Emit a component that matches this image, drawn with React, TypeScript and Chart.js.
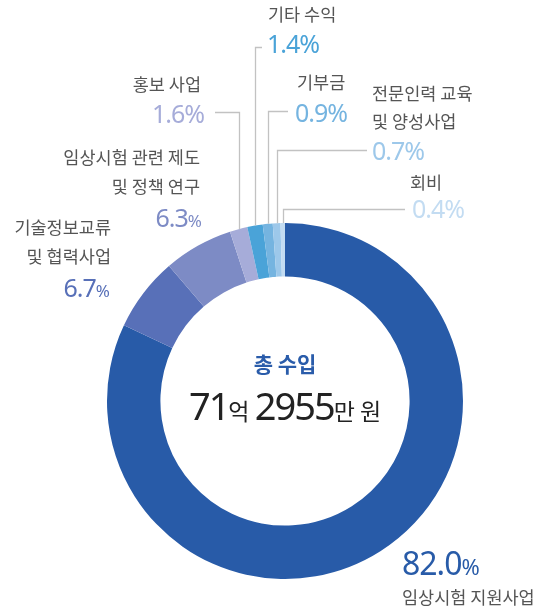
import React, { useEffect, useRef } from "react";
import { Chart, registerables } from "chart.js";

Chart.register(...registerables);

// ---- data ----
const categories = [
  "임상시험 지원사업",
  "기술정보교류 및 협력사업",
  "임상시험 관련 제도 및 정책 연구",
  "홍보 사업",
  "기타 수익",
  "기부금",
  "전문인력 교육 및 양성사업",
  "회비",
];
const shares = [82.0, 6.7, 6.3, 1.6, 1.4, 0.9, 0.7, 0.4];
const labelLines = [
  ["임상시험 지원사업"],
  ["기술정보교류", "및 협력사업"],
  ["임상시험 관련 제도", "및 정책 연구"],
  ["홍보 사업"],
  ["기타 수익"],
  ["기부금"],
  ["전문인력 교육", "및 양성사업"],
  ["회비"],
];
const centerTitle = "총 수입";
const totalParts = [
  { t: "71", big: true },
  { t: "억 ", big: false },
  { t: "2955", big: true },
  { t: "만 원", big: false },
];

// ---- styles / layout ----
const colors = [
  "#285ba8",
  "#5870b8",
  "#7d8bc5",
  "#a6acd9",
  "#4aa3d8",
  "#75b4e0",
  "#9dc8ea",
  "#c3dcf2",
];
type LabelLayout = {
  align: CanvasTextAlign;
  x: number;
  lineYs: number[];
  pctX: number;
  pctY: number;
  pctSize: number;
  smallPct: boolean;
  leader?: { y: number; x: number };
};
const layouts: LabelLayout[] = [
  { align: "left", x: 402, lineYs: [604], pctX: 402, pctY: 575, pctSize: 32, smallPct: true },
  { align: "right", x: 111, lineYs: [234, 263], pctX: 109, pctY: 297, pctSize: 25, smallPct: true },
  { align: "right", x: 200, lineYs: [164, 193], pctX: 201, pctY: 227, pctSize: 25, smallPct: true },
  { align: "right", x: 201, lineYs: [91], pctX: 204, pctY: 123, pctSize: 25, smallPct: false, leader: { y: 112, x: 215 } },
  { align: "left", x: 268, lineYs: [21], pctX: 267, pctY: 53, pctSize: 25, smallPct: false, leader: { y: 47, x: 262 } },
  { align: "left", x: 297, lineYs: [89], pctX: 295, pctY: 122, pctSize: 25, smallPct: false, leader: { y: 111, x: 288 } },
  { align: "left", x: 372, lineYs: [100, 128], pctX: 372, pctY: 160, pctSize: 25, smallPct: false, leader: { y: 150, x: 367 } },
  { align: "left", x: 410, lineYs: [189], pctX: 412, pctY: 218, pctSize: 25, smallPct: false, leader: { y: 209, x: 405 } },
];

const KR = '"Noto Sans CJK KR", "Noto Sans", sans-serif';
const NUM = '"Noto Sans", "Noto Sans CJK KR", sans-serif';

const labelPlugin = {
  id: "labels",
  afterDraw(chart: any) {
    const ctx = chart.ctx as CanvasRenderingContext2D;
    const meta = chart.getDatasetMeta(0);
    ctx.save();
    layouts.forEach((lay, i) => {
      const arc = meta.data[i];
      const p = arc.getProps(["x", "y", "startAngle", "endAngle", "outerRadius"], true);
      // leader line
      if (lay.leader) {
        const mid = (p.startAngle + p.endAngle) / 2;
        const vx = Math.round(p.x + Math.cos(mid) * p.outerRadius) + 0.5;
        const vy = p.y + Math.sin(mid) * p.outerRadius;
        ctx.strokeStyle = "#c2c2c2";
        ctx.lineWidth = 1.3;
        ctx.beginPath();
        ctx.moveTo(lay.leader.x, lay.leader.y + 0.5);
        ctx.lineTo(vx, lay.leader.y + 0.5);
        ctx.lineTo(vx, vy);
        ctx.stroke();
      }
      // category text
      ctx.fillStyle = "#555555";
      ctx.font = `400 17.5px ${KR}`;
      ctx.textAlign = lay.align;
      ctx.textBaseline = "alphabetic";
      labelLines[i].forEach((ln, j) => ctx.fillText(ln, lay.x, lay.lineYs[j]));
      // percentage
      const num = shares[i].toFixed(1);
      ctx.fillStyle = colors[i];
      const bigFont = `400 ${lay.pctSize}px ${NUM}`;
      const pctFont = lay.smallPct
        ? `400 ${Math.round(lay.pctSize * 0.68)}px ${NUM}`
        : bigFont;
      ctx.font = bigFont;
      ctx.letterSpacing = "-1px";
      const wNum = ctx.measureText(num).width;
      ctx.font = pctFont;
      const wPct = ctx.measureText("%").width;
      let start = lay.pctX;
      if (lay.align === "right") start = lay.pctX - wNum - wPct;
      ctx.textAlign = "left";
      ctx.font = bigFont;
      ctx.fillText(num, start, lay.pctY);
      ctx.font = pctFont;
      ctx.fillText("%", start + wNum, lay.pctY);
      ctx.letterSpacing = "0px";
    });

    // center text
    const cx = meta.data[0].x;
    ctx.textAlign = "center";
    ctx.fillStyle = "#2a5caa";
    ctx.font = `700 21px ${KR}`;
    ctx.fillText(centerTitle, cx, 372);

    const bigF = `400 38px ${NUM}`;
    const smallF = `400 23px ${KR}`;
    ctx.textAlign = "left";
    let total = 0;
    const widths = totalParts.map((pt) => {
      ctx.font = pt.big ? bigF : smallF;
      ctx.letterSpacing = pt.big ? "-2px" : "0px";
      const w = ctx.measureText(pt.t).width;
      total += w;
      return w;
    });
    let x = cx - total / 2;
    ctx.fillStyle = "#222222";
    totalParts.forEach((pt, k) => {
      ctx.font = pt.big ? bigF : smallF;
      ctx.letterSpacing = pt.big ? "-2px" : "0px";
      ctx.fillText(pt.t, x, 420);
      x += widths[k];
    });
    ctx.letterSpacing = "0px";
    ctx.restore();
  },
};

export default function App() {
  const ref = useRef<HTMLCanvasElement>(null);
  useEffect(() => {
    if (!ref.current) return;
    const chart = new Chart(ref.current, {
      type: "doughnut",
      data: {
        labels: categories,
        datasets: [
          {
            data: shares,
            backgroundColor: colors,
            borderWidth: 0,
          },
        ],
      },
      options: {
        responsive: false,
        animation: false,
        devicePixelRatio: 1,
        cutout: "70%",
        layout: { padding: { left: 107, right: 87, top: 223, bottom: 31 } },
        plugins: {
          legend: { display: false },
          tooltip: { enabled: false },
        },
      },
      plugins: [labelPlugin],
    });
    return () => chart.destroy();
  }, []);
  return (
    <div style={{ position: "absolute", left: 0, top: 0, width: 550, height: 610, background: "#fff" }}>
      <canvas ref={ref} width={550} height={610} style={{ width: 550, height: 610 }} />
    </div>
  );
}
